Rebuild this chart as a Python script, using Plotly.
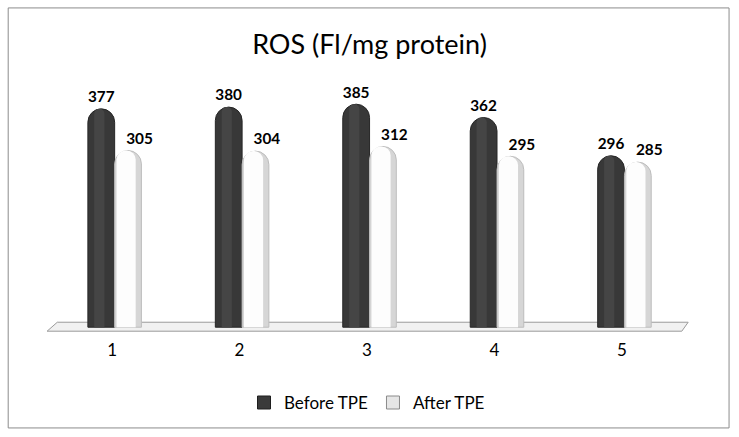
import plotly.graph_objects as go

categories = [1, 2, 3, 4, 5]
before_tpe = [377, 380, 385, 362, 296]
after_tpe = [305, 304, 312, 295, 285]
tick_labels = ["1", "2", "3", "4", "5"]
series_names = ["Before TPE", "After TPE"]
title_text = "ROS (Fl/mg protein)"

FONT = "Lato, 'Open Sans', sans-serif"
W = 0.21
LABEL_FONT = dict(family=FONT, size=17, color="#000000", weight="bold")

fig = go.Figure()

# Main cylinder bodies
fig.add_trace(go.Bar(
    x=categories, y=before_tpe, name=series_names[0], showlegend=False,
    offset=-0.19, width=W,
    marker=dict(color="#383838", line=dict(color="#262626", width=1), cornerradius="50%"),
    text=[str(v) for v in before_tpe], textposition="outside",
    textfont=LABEL_FONT, cliponaxis=False,
))
fig.add_trace(go.Bar(
    x=categories, y=after_tpe, name=series_names[1], showlegend=False,
    offset=0.02, width=W,
    marker=dict(color="#d6d6d6", line=dict(color="#bdbdbd", width=1), cornerradius="50%"),
))
# Cylinder highlights (same data, narrower, lighter)
fig.add_trace(go.Bar(
    x=categories, y=before_tpe, showlegend=False, hoverinfo="skip",
    offset=-0.14, width=0.08,
    marker=dict(color="#454545", line=dict(width=0), cornerradius="50%"),
))
fig.add_trace(go.Bar(
    x=categories, y=after_tpe, showlegend=False, hoverinfo="skip",
    offset=0.035, width=0.15,
    marker=dict(color="#fdfdfd", line=dict(width=0), cornerradius="50%"),
))
# Labels for the "After" series, placed slightly right as in the 3D original
fig.add_trace(go.Bar(
    x=categories, y=after_tpe, showlegend=False, hoverinfo="skip",
    offset=0.11, width=W,
    marker=dict(color="rgba(0,0,0,0)", line=dict(width=0)),
    text=[str(v) for v in after_tpe], textposition="outside",
    textfont=LABEL_FONT, cliponaxis=False,
))

# Legend entries with square keys
fig.add_trace(go.Scatter(
    x=[None], y=[None], mode="markers", name=series_names[0],
    marker=dict(symbol="square", size=13, color="#3a3a3a", line=dict(color="#1e1e1e", width=1)),
))
fig.add_trace(go.Scatter(
    x=[None], y=[None], mode="markers", name=series_names[1],
    marker=dict(symbol="square", size=13, color="#e6e6e6", line=dict(color="#8a8a8a", width=1)),
))

# Floor (decorative parallelogram)
fig.add_shape(type="path", xref="x", yref="y", layer="below",
              path="M 0.57 8.6 L 5.52 8.6 L 5.47 -6.9 L 0.49 -6.9 Z",
              fillcolor="#f1f1f1", line=dict(color="#9a9a9a", width=1))

# Outer chart border
fig.add_shape(type="rect", xref="paper", yref="paper",
              x0=-0.052, x1=1.057, y0=-0.361, y1=1.236,
              line=dict(color="#8c8c8c", width=1), fillcolor="rgba(0,0,0,0)")

fig.update_layout(
    width=739, height=437,
    margin=dict(l=42, r=47, t=70, b=104),
    paper_bgcolor="white", plot_bgcolor="white",
    barmode="overlay",
    title=dict(text=title_text, x=0.5, xanchor="center", y=0.897, yanchor="middle",
               font=dict(family=FONT, size=27, color="#000000")),
    font=dict(family=FONT, color="#000000"),
    xaxis=dict(range=[0.45, 5.55], tickvals=categories, ticktext=tick_labels,
               showgrid=False, zeroline=False, showline=False,
               ticks="outside", ticklen=2, tickcolor="rgba(0,0,0,0)",
               tickfont=dict(family=FONT, size=17)),
    yaxis=dict(range=[-10, 444], visible=False),
    legend=dict(orientation="h", x=0.5, xanchor="center", y=-0.266, yanchor="middle",
                font=dict(family=FONT, size=17), traceorder="normal", itemwidth=30),
    showlegend=True,
)

fig.write_html("out.html", config={"displayModeBar": False},
               post_script="document.body.style.margin='0';")
